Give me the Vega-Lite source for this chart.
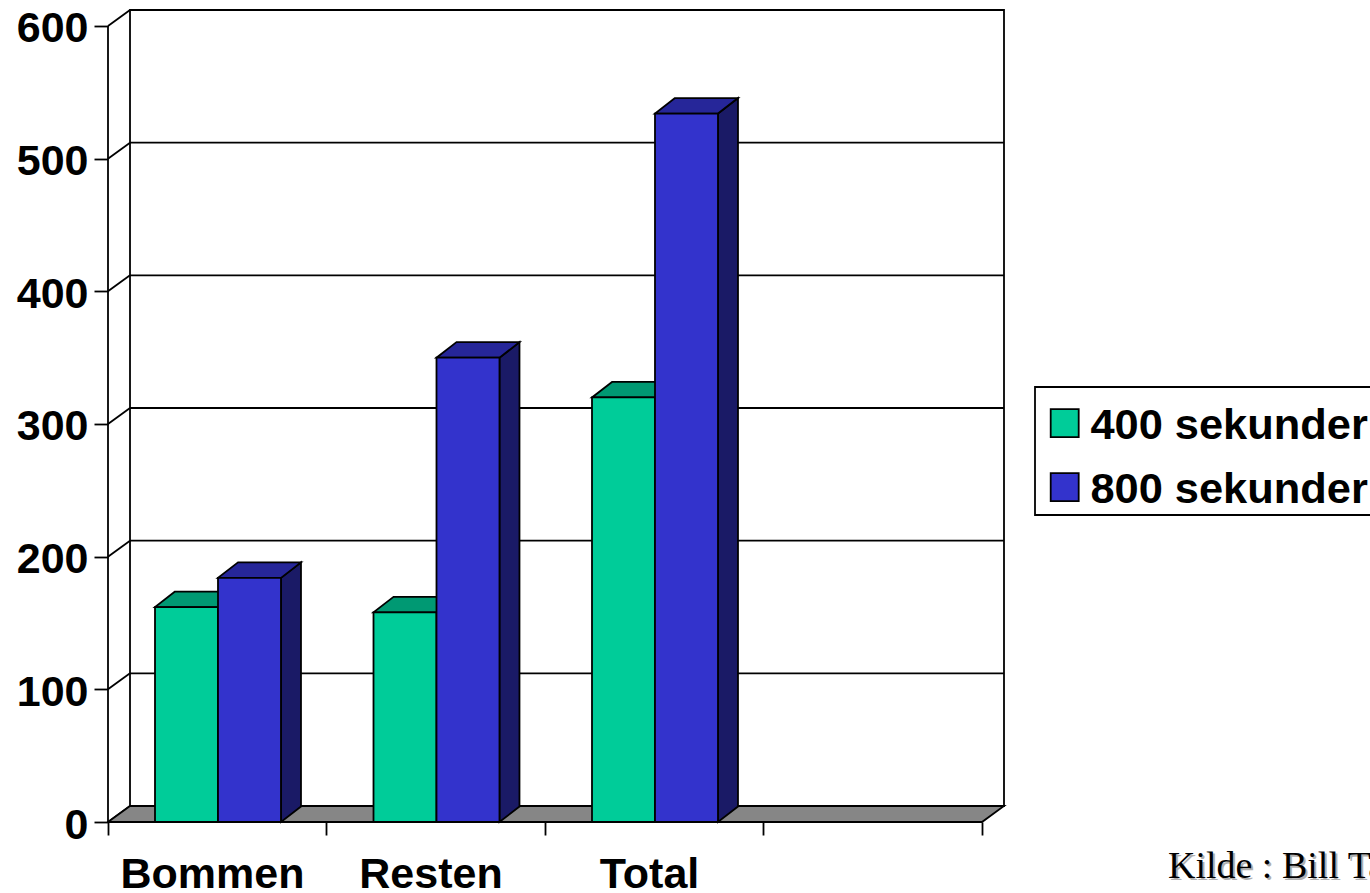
{
"$schema":"https://vega.github.io/schema/vega-lite/v6.json",
"autosize":{"type":"none"},
"width":896,"height":812,
"padding":{"left":108,"top":10,"right":366,"bottom":71},
"background":"white",
"view":{"stroke":null},
"config":{"font":"Liberation Sans"},
"data":{"values":[
{"kategori":"Bommen","serie":"400 sekunder","verdi":162},
{"kategori":"Bommen","serie":"800 sekunder","verdi":184},
{"kategori":"Resten","serie":"400 sekunder","verdi":158},
{"kategori":"Resten","serie":"800 sekunder","verdi":350},
{"kategori":"Total","serie":"400 sekunder","verdi":320},
{"kategori":"Total","serie":"800 sekunder","verdi":534}
]},
"transform":[
{"calculate":"indexof(['Bommen','Resten','Total'],datum.kategori)","as":"i"},
{"calculate":"datum.i+0.2151+(datum.serie==='800 sekunder'?0.2883:0)","as":"x0"},
{"calculate":"datum.x0+0.2883","as":"x1"}
],
"resolve":{"axis":{"x":"independent","y":"independent"}},
"layer":[
{"data":{"values":[{}]},
 "mark":{"type":"rect","fill":"white","stroke":"black","strokeWidth":1.8},
 "encoding":{
  "x":{"datum":0.1007,"type":"quantitative","scale":{"domain":[0,4.1007],"nice":false,"zero":false},
   "axis":{"values":[0,1,2,3,4],"title":null,"grid":false,"domain":false,"tickSize":13,"tickWidth":1.8,"tickColor":"black","labelOffset":104,"labelExpr":"['Bommen','Resten','Total','',''][datum.value]","labelFont":"Liberation Sans","labelFontWeight":"bold","labelFontSize":43,"labelColor":"black","labelPadding":18,"labelLimit":400,"labelOverlap":false,"labelFlush":false,"labelBound":false}},
  "x2":{"datum":4.1007},
  "y":{"datum":12.06,"type":"quantitative","scale":{"domain":[0,612.06],"nice":false,"zero":false},
   "axis":{"values":[0,100,200,300,400,500,600],"title":null,"grid":false,"domain":false,"tickSize":14,"tickWidth":1.8,"tickColor":"black","labelFont":"Liberation Sans","labelFontWeight":"bold","labelFontSize":43,"labelColor":"black","labelPadding":6,"labelOffset":3,"labelOverlap":false,"labelFlush":false,"labelBound":false}},
  "y2":{"datum":612.06}
 }},
{"data":{"values":[{"v":0},{"v":100},{"v":200},{"v":300},{"v":400},{"v":500},{"v":600}]},
 "transform":[{"calculate":"datum.v+12.06","as":"vb"}],
 "mark":{"type":"rule","color":"black","strokeWidth":1.8},
 "encoding":{
  "x":{"datum":0.1007,"type":"quantitative","axis":null},
  "x2":{"datum":4.1007},
  "y":{"field":"vb","type":"quantitative","axis":null}
 }},
{"data":{"values":[{"v":0},{"v":100},{"v":200},{"v":300},{"v":400},{"v":500},{"v":600}]},
 "transform":[{"calculate":"datum.v+12.06","as":"vb"}],
 "mark":{"type":"rule","color":"black","strokeWidth":1.8},
 "encoding":{
  "x":{"datum":0,"type":"quantitative","axis":null},
  "x2":{"datum":0.1007},
  "y":{"field":"v","type":"quantitative","axis":null},
  "y2":{"field":"vb"}
 }},
{"data":{"values":[{}]},
 "mark":{"type":"rule","color":"black","strokeWidth":1.8},
 "encoding":{
  "x":{"datum":0,"type":"quantitative","axis":null},
  "y":{"datum":0,"type":"quantitative","axis":null},
  "y2":{"datum":600}
 }},
{"data":{"values":[{"t":0},{"t":1}]},
 "transform":[
  {"calculate":"datum.t*12.06","as":"fy"},
  {"calculate":"datum.t*0.1007","as":"fx0"},
  {"calculate":"4+datum.t*0.1007","as":"fx1"}
 ],
 "mark":{"type":"area","orient":"horizontal","fill":"#868686","stroke":"black","strokeWidth":1.8},
 "encoding":{
  "y":{"field":"fy","type":"quantitative","axis":null},
  "x":{"field":"fx0","type":"quantitative","axis":null},
  "x2":{"field":"fx1"}
 }},
{"transform":[
  {"filter":"datum.serie==='400 sekunder'"},
  {"calculate":"[0,1]","as":"t"},{"flatten":["t"]},
  {"calculate":"datum.verdi+datum.t*11.7","as":"ty"},
  {"calculate":"datum.x0+datum.t*0.0915","as":"tx0"},
  {"calculate":"datum.x1+datum.t*0.0915","as":"tx1"}
 ],
 "mark":{"type":"area","orient":"horizontal","fill":"#009973","stroke":"black","strokeWidth":1.8},
 "encoding":{
  "detail":{"field":"kategori"},
  "y":{"field":"ty","type":"quantitative","axis":null},
  "x":{"field":"tx0","type":"quantitative","axis":null},
  "x2":{"field":"tx1"}
 }},
{"transform":[
  {"filter":"datum.serie==='800 sekunder'"},
  {"calculate":"[0,1]","as":"t"},{"flatten":["t"]},
  {"calculate":"datum.x1+datum.t*0.0915","as":"sx"},
  {"calculate":"datum.verdi+datum.t*11.7","as":"sy"},
  {"calculate":"datum.t*11.7","as":"sy2"}
 ],
 "mark":{"type":"area","orient":"vertical","fill":"#1A1A66","stroke":"black","strokeWidth":1.8},
 "encoding":{
  "detail":{"field":"kategori"},
  "x":{"field":"sx","type":"quantitative","axis":null},
  "y":{"field":"sy","type":"quantitative","axis":null},
  "y2":{"field":"sy2"}
 }},
{"transform":[
  {"filter":"datum.serie==='800 sekunder'"},
  {"calculate":"[0,1]","as":"t"},{"flatten":["t"]},
  {"calculate":"datum.verdi+datum.t*11.7","as":"ty"},
  {"calculate":"datum.x0+datum.t*0.0915","as":"tx0"},
  {"calculate":"datum.x1+datum.t*0.0915","as":"tx1"}
 ],
 "mark":{"type":"area","orient":"horizontal","fill":"#262699","stroke":"black","strokeWidth":1.8},
 "encoding":{
  "detail":{"field":"kategori"},
  "y":{"field":"ty","type":"quantitative","axis":null},
  "x":{"field":"tx0","type":"quantitative","axis":null},
  "x2":{"field":"tx1"}
 }},
{"mark":{"type":"rect","stroke":"black","strokeWidth":1.8},
 "encoding":{
  "x":{"field":"x0","type":"quantitative","axis":null},
  "x2":{"field":"x1"},
  "y":{"field":"verdi","type":"quantitative","axis":null},
  "y2":{"datum":0},
  "color":{"field":"serie","type":"nominal",
   "scale":{"domain":["400 sekunder","800 sekunder"],"range":["#00CC99","#3333CC"]},
   "legend":{"orient":"none","legendX":927,"legendY":377,"title":" ","titleFontSize":1,"titlePadding":11,"padding":2.5,"strokeColor":"black","fillColor":"white","symbolType":"square","symbolSize":784,"symbolStrokeColor":"black","symbolStrokeWidth":1.8,"symbolOffset":5.5,"labelFont":"Liberation Sans","labelFontWeight":"bold","labelFontSize":43.4,"labelColor":"black","labelOffset":4,"rowPadding":17,"labelLimit":400,
    "encode":{"labels":{"update":{"dy":{"value":3}}},"legend":{"update":{"strokeWidth":{"value":1.8}}}}}}
 }},
{"data":{"values":[{"tekst":"Kilde : Bill Ta"}]},
 "mark":{"type":"text","align":"left","baseline":"alphabetic","font":"Liberation Serif","fontSize":38,"color":"#b0b0b0","dx":2,"dy":2},
 "encoding":{
  "x":{"datum":4.851,"type":"quantitative","axis":null},
  "y":{"datum":-42.2,"type":"quantitative","axis":null},
  "text":{"field":"tekst"}
 }},
{"data":{"values":[{"tekst":"Kilde : Bill Ta"}]},
 "mark":{"type":"text","align":"left","baseline":"alphabetic","font":"Liberation Serif","fontSize":38,"color":"black"},
 "encoding":{
  "x":{"datum":4.851,"type":"quantitative","axis":null},
  "y":{"datum":-42.2,"type":"quantitative","axis":null},
  "text":{"field":"tekst"}
 }}
]
}
